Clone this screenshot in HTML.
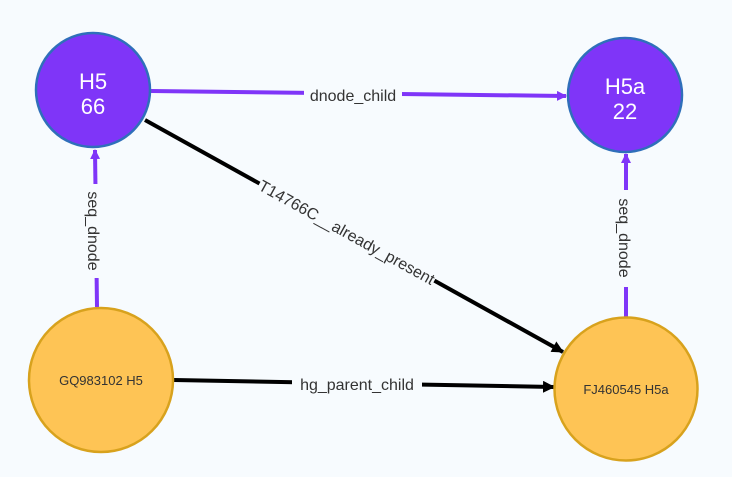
<!DOCTYPE html>
<html><head><style>
body{margin:0;background:#f7fbfe;}
svg{display:block;font-family:"Liberation Sans",Arial,sans-serif;}
.lbl{font-size:16px;fill:#333;}
</style></head><body>
<svg width="732" height="477" viewBox="0 0 732 477">
<defs>
<marker id="ap" markerWidth="10" markerHeight="10" refX="9" refY="5" orient="auto" markerUnits="userSpaceOnUse"><path d="M0,0 L10,5 L0,10 z" fill="#7f35f8"/></marker>
<marker id="ab" markerWidth="12" markerHeight="12" refX="11" refY="6" orient="auto" markerUnits="userSpaceOnUse"><path d="M0,0 L12,6 L0,12 z" fill="#000"/></marker>
</defs>
<rect width="732" height="477" fill="#f7fbfe"/>
<line x1="151" y1="91" x2="566" y2="96" stroke="#7f35f8" stroke-width="4" marker-end="url(#ap)"/>
<line x1="145" y1="120" x2="563" y2="352" stroke="#000" stroke-width="4" marker-end="url(#ab)"/>
<line x1="174" y1="380" x2="554" y2="387" stroke="#000" stroke-width="4" marker-end="url(#ab)"/>
<line x1="97" y1="307" x2="95" y2="150" stroke="#7f35f8" stroke-width="4" marker-end="url(#ap)"/>
<line x1="626" y1="317" x2="626" y2="154" stroke="#7f35f8" stroke-width="4" marker-end="url(#ap)"/>
<rect x="304" y="84" width="98" height="22" fill="#f7fbfe"/>
<rect x="292" y="373" width="130" height="22" fill="#f7fbfe"/>
<rect x="83" y="184" width="22" height="94" fill="#f7fbfe"/>
<rect x="614" y="190" width="22" height="97" fill="#f7fbfe"/>
<g transform="translate(347,232) rotate(29)"><rect x="-100" y="-11" width="200" height="22" fill="#f7fbfe"/><text class="lbl" x="0" y="6" text-anchor="middle">T14766C__already_present</text></g>
<text class="lbl" x="353" y="101" text-anchor="middle">dnode_child</text>
<text class="lbl" x="357" y="390" text-anchor="middle">hg_parent_child</text>
<text class="lbl" transform="translate(88,231) rotate(90)" text-anchor="middle">seq_dnode</text>
<text class="lbl" transform="translate(619,238) rotate(90)" text-anchor="middle">seq_dnode</text>
<circle cx="93" cy="90" r="57" fill="#7f35f8" stroke="#2f6fba" stroke-width="2.5"/>
<text x="93" y="89" fill="#fff" font-size="22" text-anchor="middle">H5</text>
<text x="93" y="114" fill="#fff" font-size="22" text-anchor="middle">66</text>
<circle cx="625" cy="95" r="57" fill="#7f35f8" stroke="#2f6fba" stroke-width="2.5"/>
<text x="625" y="94" fill="#fff" font-size="22" text-anchor="middle">H5a</text>
<text x="625" y="119" fill="#fff" font-size="22" text-anchor="middle">22</text>
<circle cx="101" cy="380" r="72" fill="#fec455" stroke="#d8a21d" stroke-width="2.5"/>
<text x="101" y="385" fill="#333" font-size="13" text-anchor="middle">GQ983102 H5</text>
<circle cx="626" cy="389" r="71.5" fill="#fec455" stroke="#d8a21d" stroke-width="2.5"/>
<text x="626" y="394" fill="#333" font-size="13" text-anchor="middle">FJ460545 H5a</text>
</svg>
</body></html>
